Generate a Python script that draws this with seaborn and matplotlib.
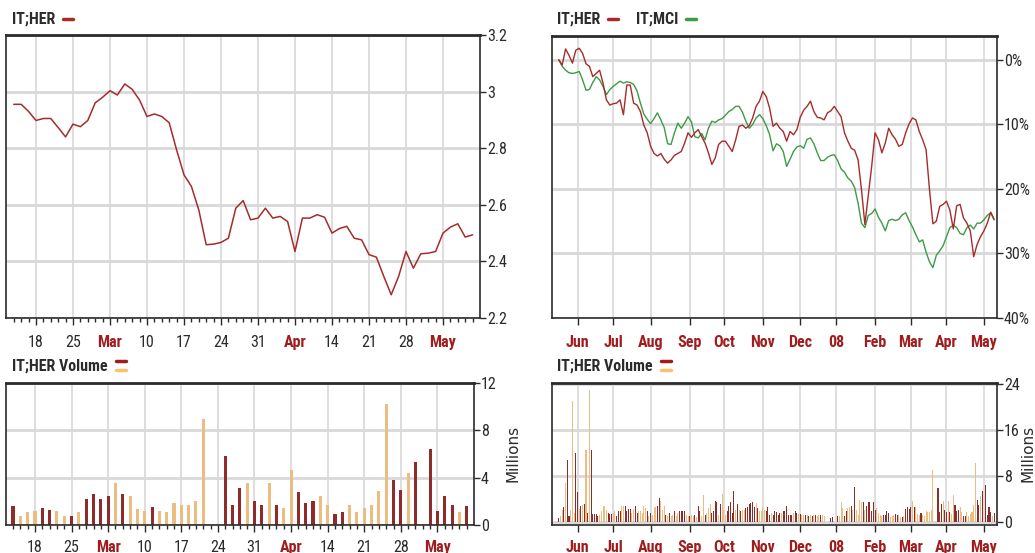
import pandas as pd
import matplotlib
matplotlib.use('Agg')
import matplotlib.pyplot as plt
from matplotlib.lines import Line2D
import seaborn as sns

# ---------------- Data ----------------

# IT;HER daily close, 13 Feb - 9 May 2008
her_close = [2.955, 2.955, 2.93, 2.898, 2.905, 2.905, 2.873, 2.84, 2.885, 2.876,
             2.898, 2.96, 2.98, 3.003, 2.988, 3.027, 3.008, 2.97, 2.912, 2.921,
             2.912, 2.89, 2.794, 2.706, 2.665, 2.582, 2.459, 2.461, 2.467, 2.482,
             2.588, 2.615, 2.547, 2.553, 2.588, 2.553, 2.559, 2.541, 2.435, 2.553,
             2.553, 2.565, 2.556, 2.5, 2.516, 2.524, 2.482, 2.476, 2.424, 2.415,
             2.347, 2.282, 2.347, 2.435, 2.376, 2.427, 2.429, 2.435, 2.5, 2.521,
             2.533, 2.486, 2.494]

# volume in millions, same days (0 = exchange closed)
her_volume = [1.57, 0.77, 1.06, 1.2, 1.4, 1.23, 1.2, 0.77, 0.77, 1.06,
              2.17, 2.63, 2.17, 2.49, 3.57, 2.63, 2.49, 1.34, 1.2, 1.54,
              1.2, 1.06, 1.83, 1.71, 1.71, 2.0, 8.97, 0, 0, 5.83,
              1.69, 3.11, 3.57, 2.0, 1.71, 3.57, 1.71, 1.4, 4.69, 2.83,
              1.86, 2.0, 2.49, 1.71, 0.91, 1.06, 1.69, 1.06, 1.4, 1.69,
              2.91, 10.2, 3.77, 2.97, 4.4, 5.34, 0, 6.43, 1.2, 2.49,
              1.71, 1.06, 1.57]
# 1 = up day (dark red bar), 0 = down day (orange bar)
her_up = [1, 0, 0, 0, 1, 1, 0, 0, 1, 0,
          1, 1, 1, 1, 0, 1, 0, 0, 0, 1,
          0, 0, 0, 0, 0, 0, 0, 0, 0, 1,
          1, 1, 0, 1, 1, 0, 1, 0, 0, 1,
          1, 1, 0, 0, 1, 1, 0, 0, 0, 0,
          0, 0, 1, 1, 0, 1, 0, 1, 1, 1,
          1, 0, 1]

# one year, % change since 17 May 2007, every 2nd trading day
her_pct = [0.0, -0.8, 1.7, 0.7, -0.5, 1.5, 1.8, 1.0, -0.6, -1.0,
           -2.6, -2.1, -1.6, -3.6, -6.2, -7.0, -6.8, -6.7, -6.2, -8.5,
           -3.9, -3.9, -6.7, -7.0, -8.0, -10.1, -11.3, -13.4, -14.5, -14.9,
           -14.5, -15.4, -16.0, -15.5, -14.8, -14.5, -14.2, -12.9, -11.3, -12.0,
           -11.3, -10.8, -11.9, -12.9, -14.4, -16.2, -15.2, -13.1, -12.6, -12.6,
           -13.4, -14.2, -12.4, -10.3, -10.1, -10.6, -10.2, -9.0, -7.2, -6.4,
           -4.9, -5.7, -7.5, -10.3, -9.8, -10.6, -11.1, -12.6, -11.1, -11.6,
           -10.8, -8.9, -7.8, -7.2, -6.4, -8.0, -8.9, -9.0, -9.3, -8.2,
           -7.9, -7.2, -8.0, -8.8, -11.3, -12.6, -13.7, -14.0, -15.5, -20.1,
           -25.5, -21.0, -16.5, -11.3, -12.4, -14.4, -12.9, -10.6, -11.6, -12.3,
           -13.4, -13.1, -11.3, -9.9, -9.0, -9.3, -11.1, -12.4, -13.9, -20.1,
           -25.4, -25.0, -22.7, -22.4, -21.9, -23.3, -26.2, -22.6, -22.4, -24.5,
           -25.3, -26.5, -30.5, -28.6, -27.4, -26.5, -25.3, -23.6, -24.7]
mci_pct = [0.0, -1.0, -1.6, -2.0, -2.1, -2.0, -1.8, -3.1, -4.7, -4.6,
           -3.5, -2.6, -3.1, -4.1, -5.4, -4.6, -4.1, -3.7, -3.3, -3.6,
           -3.4, -3.5, -3.8, -4.8, -6.7, -8.4, -9.2, -9.9, -9.1, -8.2,
           -9.3, -10.5, -13.0, -13.1, -11.3, -9.8, -10.6, -9.8, -8.8, -9.6,
           -11.9, -12.1, -11.4, -12.4, -10.6, -9.5, -9.7, -9.3, -9.1, -8.6,
           -8.0, -7.7, -7.2, -7.2, -8.1, -9.5, -10.6, -10.0, -9.0, -8.5,
           -9.1, -10.2, -11.6, -14.1, -13.0, -13.3, -14.2, -16.5, -15.4, -14.2,
           -13.5, -13.3, -13.7, -12.3, -12.1, -13.0, -14.4, -15.6, -15.6, -15.1,
           -14.8, -14.7, -15.6, -16.9, -17.4, -18.3, -18.8, -19.8, -22.2, -25.3,
           -26.0, -24.1, -23.8, -23.1, -24.4, -25.3, -26.5, -24.9, -24.7, -24.9,
           -24.7, -24.0, -23.7, -24.9, -25.9, -27.1, -28.2, -27.9, -29.8, -31.3,
           -32.2, -30.3, -29.6, -28.8, -27.4, -26.0, -25.6, -26.0, -26.9, -27.1,
           -26.0, -25.6, -26.2, -25.3, -25.3, -24.8, -24.1, -23.7, -24.8]

# volume 17 May 2007 - 12 Feb 2008 (millions)
year_volume = [0.6, 1.0, 2.1, 2.5, 6.8, 10.8, 1.0, 2.0, 21.0, 1.5,
               11.9, 5.2, 2.2, 2.8, 2.9, 3.1, 12.5, 1.5, 22.8, 12.5,
               1.3, 1.3, 1.3, 1.0, 1.2, 1.8, 2.7, 2.8, 2.1, 1.5,
               1.3, 1.3, 1.6, 1.9, 1.0, 1.8, 1.8, 2.8, 2.8, 2.8,
               1.8, 2.2, 2.2, 1.5, 2.2, 2.8, 1.5, 1.8, 1.8, 1.5,
               2.8, 2.4, 1.8, 1.0, 1.5, 1.2, 2.5, 2.5, 2.8, 4.1,
               3.6, 2.0, 2.8, 1.25, 1.0, 1.5, 1.0, 1.25, 1.8, 1.0,
               1.5, 1.8, 1.8, 1.8, 1.8, 1.25, 1.0, 1.0, 1.25, 1.0,
               1.25, 0.9, 2.8, 1.8, 1.0, 4.6, 1.2, 1.5, 2.3, 3.1,
               1.5, 1.8, 3.6, 3.4, 1.25, 3.1, 4.9, 2.1, 1.25, 1.8,
               2.8, 3.5, 1.5, 5.3, 2.1, 3.1, 2.1, 1.8, 2.1, 2.1,
               2.3, 2.5, 3.1, 3.2, 3.5, 2.5, 3.2, 2.3, 1.9, 1.8,
               2.5, 2.1, 1.8, 2.5, 1.25, 1.5, 1.25, 1.9, 1.7, 1.1,
               1.5, 1.5, 1.8, 1.8, 2.8, 1.25, 1.25, 1.25, 1.5, 1.8,
               1.5, 1.4, 1.4, 1.25, 1.25, 1.25, 1.25, 1.0, 1.25, 1.0,
               1.25, 1.2, 1.0, 1.25, 1.2, 1.2, 1.0, 0, 0, 0,
               0.6, 0.8, 0, 0, 1.0, 1.0, 3.4, 2.4, 1.0, 1.8,
               2.4, 2.5, 2.8, 2.1, 6.0, 2.1, 1.2, 3.8, 3.5, 3.4,
               2.1, 2.8, 3.5, 3.4, 1.8, 3.4, 2.1, 2.4, 1.5, 1.1,
               1.0, 1.25, 1.25, 1.8]
year_up = [1, 0, 0, 1, 0, 1, 1, 0, 0, 0,
           1, 1, 0, 1, 0, 1, 0, 1, 0, 1,
           1, 1, 1, 1, 0, 0, 0, 0, 0, 1,
           1, 1, 0, 0, 1, 1, 1, 0, 0, 1,
           1, 1, 1, 0, 0, 1, 1, 0, 0, 0,
           0, 0, 1, 0, 1, 0, 0, 0, 1, 1,
           0, 0, 0, 1, 0, 1, 0, 0, 1, 0,
           0, 1, 1, 1, 1, 0, 0, 1, 0, 0,
           1, 0, 1, 1, 0, 0, 1, 0, 0, 0,
           1, 1, 1, 1, 0, 1, 0, 0, 0, 1,
           1, 1, 1, 1, 0, 1, 0, 1, 0, 0,
           1, 1, 1, 1, 1, 1, 0, 1, 0, 0,
           0, 0, 1, 1, 1, 0, 1, 1, 1, 1,
           1, 0, 1, 1, 1, 1, 1, 1, 0, 1,
           1, 0, 1, 0, 0, 1, 0, 1, 0, 1,
           0, 1, 0, 0, 1, 0, 0, 0, 0, 0,
           1, 1, 0, 0, 1, 0, 0, 0, 1, 1,
           0, 0, 1, 0, 1, 0, 0, 0, 0, 1,
           0, 1, 1, 1, 1, 1, 1, 0, 0, 0,
           0, 1, 1, 1]

# ---------------- Frames ----------------

recent_dates = pd.bdate_range('2008-02-13', '2008-05-09')
year_dates = pd.bdate_range('2007-05-17', '2008-05-09')

recent = pd.DataFrame({'day': range(len(recent_dates)), 'close': her_close,
                       'vol': her_volume, 'up': her_up})
year = pd.DataFrame({'day': range(0, len(year_dates), 2),
                     'her': her_pct, 'mci': mci_pct})
year_vol = pd.DataFrame({'day': range(len(year_dates)),
                         'vol': year_volume + her_volume,
                         'up': year_up + her_up})

recent_bars = recent[recent['vol'] > 0]
year_bars = year_vol[year_vol['vol'] > 0]

# ---------------- Style ----------------

sns.set_style('white')
plt.rcParams['font.family'] = ['Liberation Sans Narrow', 'Roboto Condensed',
                               'Liberation Sans', 'DejaVu Sans']

HER_RED = '#a62b2b'
MCI_GREEN = '#3a9c45'
BAR_RED = '#9e1c1c'
BAR_ORANGE = '#fdc06e'
MONTH_RED = '#a01d1d'
TEXT = '#2b2b2b'
GRID = '#d8d8d8'
bar_pal = {1: BAR_RED, 0: BAR_ORANGE}

W, H = 1035, 553
fig = plt.figure(figsize=(W / 100, H / 100), dpi=100)


def box(x0, y0, x1, y1):
    return [x0 / W, 1 - y1 / H, (x1 - x0) / W, (y1 - y0) / H]


ax_px = fig.add_axes(box(6, 35, 480, 318))
ax_pct = fig.add_axes(box(552, 36, 997, 318))
ax_vl = fig.add_axes(box(6, 383, 474, 525))
ax_vr = fig.add_axes(box(552, 383, 997, 525))

# ---------------- Plots ----------------

sns.lineplot(data=recent, x='day', y='close', ax=ax_px, color=HER_RED,
             linewidth=1.1, estimator=None)
sns.lineplot(data=year, x='day', y='mci', ax=ax_pct, color=MCI_GREEN,
             linewidth=1, estimator=None)
sns.lineplot(data=year, x='day', y='her', ax=ax_pct, color=HER_RED,
             linewidth=1, estimator=None)

sns.barplot(data=recent_bars, x='day', y='vol', hue='up', palette=bar_pal,
            native_scale=True, dodge=False, width=0.42, linewidth=0,
            errorbar=None, legend=False, ax=ax_vl)
sns.barplot(data=year_bars, x='day', y='vol', hue='up', palette=bar_pal,
            native_scale=True, dodge=False, width=0.6, linewidth=0,
            errorbar=None, legend=False, ax=ax_vr)

# ---------------- Axes ----------------

mondays = [i for i, d in enumerate(recent_dates) if d.weekday() == 0]
week_labels = [d.strftime('%b') if d.day <= 7 else str(d.day)
               for d in recent_dates[mondays]]
month_starts = [i for i in range(1, len(year_dates))
                if year_dates[i].month != year_dates[i - 1].month]
month_labels = [d.strftime('%y') if d.month == 1 else d.strftime('%b')
                for d in year_dates[month_starts]]


def style_axes(ax, xticks, xlabels, yticks, ylabels, ylim, xlim, xpad, minor=False):
    ax.set_xlim(*xlim)
    ax.set_ylim(*ylim)
    ax.set_xticks(xticks)
    ax.set_xticklabels(xlabels)
    if minor:
        ax.set_xticks(range(len(recent_dates)), minor=True)
    ax.set_yticks(yticks)
    ax.set_yticklabels(ylabels)
    ax.yaxis.tick_right()
    ax.set_xlabel('')
    ax.set_ylabel('')
    ax.tick_params(axis='x', which='major', bottom=True, length=5, width=1,
                   color=TEXT, pad=xpad, labelsize=11.5, labelcolor=TEXT)
    ax.tick_params(axis='x', which='minor', bottom=True, length=3, width=1,
                   color=TEXT)
    ax.tick_params(axis='y', right=True, left=False, length=4, width=1,
                   color=TEXT, pad=1, labelsize=11.5, labelcolor=TEXT)
    ax.set_axisbelow(True)
    ax.grid(axis='x', which='major', color=GRID, linewidth=1.2)
    ax.grid(axis='y', color=GRID, linewidth=2)
    for s in ax.spines.values():
        s.set_color(TEXT)
        s.set_linewidth(1.2)
    ax.spines['top'].set_linewidth(2)
    for lab in ax.get_xticklabels():
        if not lab.get_text().isdigit() or lab.get_text() == '08':
            lab.set_color(MONTH_RED)
            lab.set_fontweight('bold')


style_axes(ax_px, mondays, week_labels, [2.2, 2.4, 2.6, 2.8, 3.0, 3.2],
           ['2.2', '2.4', '2.6', '2.8', '3', '3.2'], (2.2, 3.2), (-1.05, 63),
           xpad=7, minor=True)
style_axes(ax_pct, month_starts, month_labels, [0, -10, -20, -30, -40],
           ['0%', '10%', '20%', '30%', '40%'], (-40, 3.7), (-4, 257.7), xpad=7)
style_axes(ax_vl, mondays, week_labels, [0, 4, 8, 12],
           ['0', '4', '8', '12'], (0, 12), (-0.96, 63), xpad=6, minor=True)
style_axes(ax_vr, month_starts, month_labels, [0, 8, 16, 24],
           ['0', '8', '16', '24'], (-0.57, 24.1), (-4, 257.7), xpad=6)

# ---------------- Headers ----------------

renderer = fig.canvas.get_renderer()


def header(x, y, text):
    t = fig.text(x / W, 1 - y / H, text, ha='left', va='center', fontsize=11.5,
                 fontweight='bold', color=TEXT)
    return t.get_window_extent(renderer).x1 + 8


def dash(x, y, color):
    fig.add_artist(Line2D([x / W, (x + 10) / W], [1 - y / H, 1 - y / H],
                          color=color, linewidth=2.5))


end = header(12, 19, 'IT;HER')
dash(end, 19, HER_RED)
end = header(557, 19, 'IT;HER')
dash(end, 19, HER_RED)
end = header(636, 19, 'IT;MCI')
dash(end, 19, MCI_GREEN)

end = header(12, 366, 'IT;HER Volume')
dash(end, 361, BAR_RED)
dash(end, 370, BAR_ORANGE)
end = header(557, 366, 'IT;HER Volume')
dash(end, 361, BAR_RED)
dash(end, 370, BAR_ORANGE)

fig.text(513 / W, 1 - 453 / H, 'Millions', rotation=90, ha='center',
         va='center', fontsize=11, family='DejaVu Sans', color=TEXT)
fig.text(1028 / W, 1 - 453 / H, 'Millions', rotation=90, ha='center',
         va='center', fontsize=11, family='DejaVu Sans', color=TEXT)

fig.savefig('out.png', dpi=100)
